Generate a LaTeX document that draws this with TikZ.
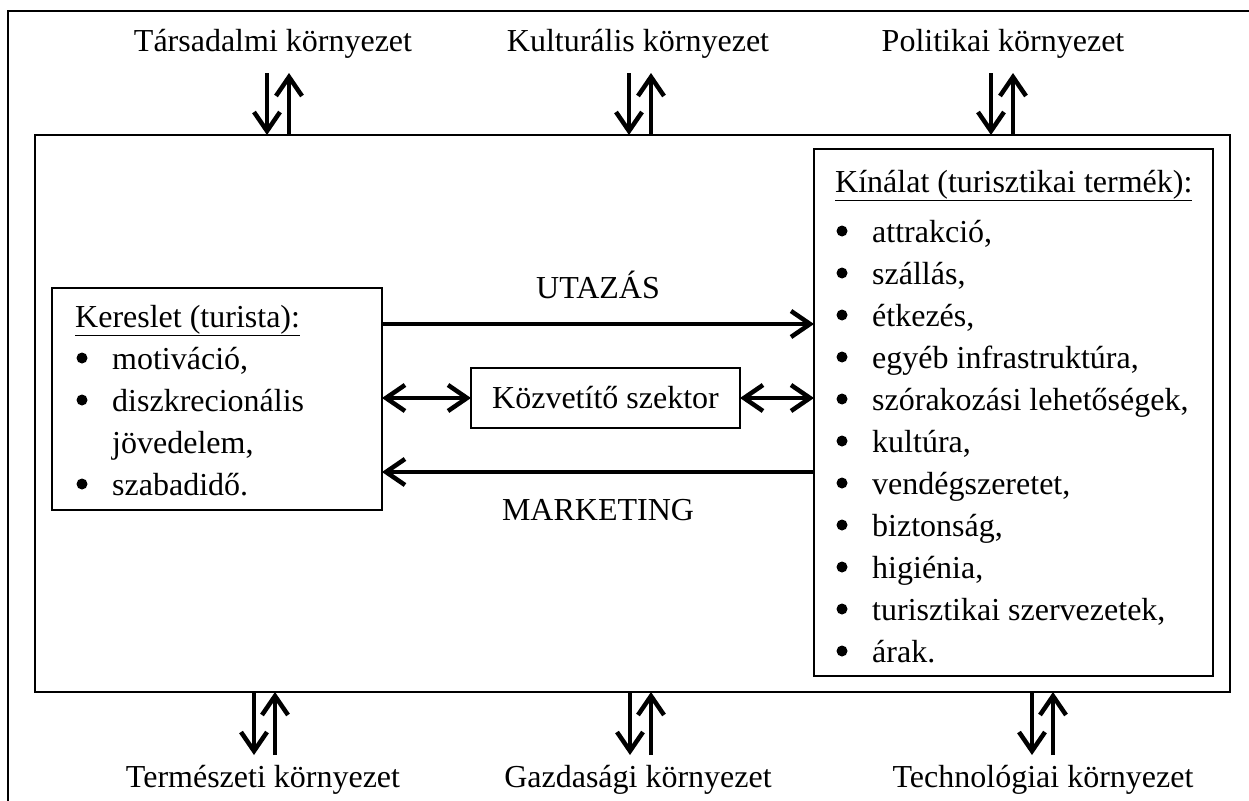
\documentclass[tikz,border=0pt]{standalone}
\usepackage{fontspec}
\setmainfont{Liberation Serif}
\usetikzlibrary{arrows.meta}
\begin{document}
\begin{tikzpicture}[x=1pt,y=-1pt,
  txt/.style={font=\fontsize{32}{42}\selectfont, inner sep=0pt},
  bul/.style={circle, fill, inner sep=0pt, minimum size=11pt},
  box/.style={draw, line width=1.3pt, inner sep=0pt, outer sep=0pt},
  tipstyle/.style={},
  bigarrow/.style={line width=4.5pt, -{Straight Barb[length=19pt,width=26pt,line width=4.5pt]}},
  dblarrow/.style={line width=4.5pt, {Straight Barb[length=19pt,width=26pt,line width=4.5pt]}-{Straight Barb[length=19pt,width=26pt,line width=4.5pt]}},
]
\begin{scope}
\clip (0,0) rectangle (1249,800);
\draw[line width=2pt] (8,11) rectangle (1280,830);
\end{scope}
% inner frame
\node[box, anchor=north west, minimum width=1195pt, minimum height=557pt] (frame) at (35,135) {};
% boxes
\node[box, anchor=north west, minimum width=330pt, minimum height=222pt] (kereslet) at (52,288) {};
\node[box, anchor=north west, minimum width=399pt, minimum height=527pt] (kinalat) at (814,149) {};
\node[box, anchor=north west, minimum width=269pt, minimum height=60pt] (kozv) at (471,368) {};
\node[txt] (kozvt) at (kozv.center) {Közvetítő szektor};
% Kereslet text
\node[txt, anchor=base west] (kh) at (75,327) {\underline{Kereslet (turista):}};
\node[bul] (kb1) at (82,358) {};
\node[txt, anchor=base west] (kt1) at (112,369) {motiváció,};
\node[bul] (kb2) at (82,400) {};
\node[txt, anchor=base west] (kt2) at (112,411) {diszkrecionális};
\node[txt, anchor=base west] (kt3) at (112,453) {jövedelem,};
\node[bul] (kb4) at (82,484) {};
\node[txt, anchor=base west] (kt4) at (112,495) {szabadidő.};
% Kinalat text
\node[txt, anchor=base west] (nh) at (835,192) {\underline{Kínálat (turisztikai termék):}};
\foreach \t [count=\i from 0] in {{attrakció,},{szállás,},{étkezés,},{egyéb infrastruktúra,},{szórakozási lehetőségek,},{kultúra,},{vendégszeretet,},{biztonság,},{higiénia,},{turisztikai szervezetek,},{árak.}}{
  \node[bul] (nb\i) at (842,{231+42*\i}) {};
  \node[txt, anchor=base west] (nt\i) at (872,{242+42*\i}) {\t};
}
% horizontal arrows
\coordinate (u) at (0,324);
\coordinate (d) at (0,398);
\coordinate (m) at (0,472);
\draw[bigarrow] (kereslet.east |- u) -- (kinalat.west |- u);
\draw[bigarrow] (kinalat.west |- m) -- (kereslet.east |- m);
\draw[dblarrow] (kereslet.east |- d) -- (kozv.west);
\draw[dblarrow] (kozv.east) -- (kinalat.west |- d);
\node[txt, anchor=base] (utazas) at (598,298) {UTAZÁS};
\node[txt, anchor=base] (mkt) at (598,520) {MARKETING};
% environment labels
\node[txt, anchor=base] (tars) at (273,52) {Társadalmi környezet};
\node[txt, anchor=base] (kult) at (638,52) {Kulturális környezet};
\node[txt, anchor=base] (pol) at (1003,52) {Politikai környezet};
\node[txt, anchor=base] (term) at (263,787) {Természeti környezet};
\node[txt, anchor=base] (gazd) at (638,787) {Gazdasági környezet};
\node[txt, anchor=base] (tech) at (1043,787) {Technológiai környezet};
% vertical arrows top
\foreach \x in {267,629,991}{
  \draw[bigarrow] (\x,73) -- (\x,0 |- frame.north);
  \draw[bigarrow] ({\x+22},0 |- frame.north) -- ({\x+22},73);
}
% vertical arrows bottom
\foreach \x in {254,630,1032}{
  \draw[bigarrow] (\x,0 |- frame.south) -- (\x,755);
  \draw[bigarrow] ({\x+21},755) -- ({\x+21},0 |- frame.south);
}
\pgfresetboundingbox
\path[use as bounding box] (0,0) rectangle (1249,800);
\end{tikzpicture}
\end{document}
